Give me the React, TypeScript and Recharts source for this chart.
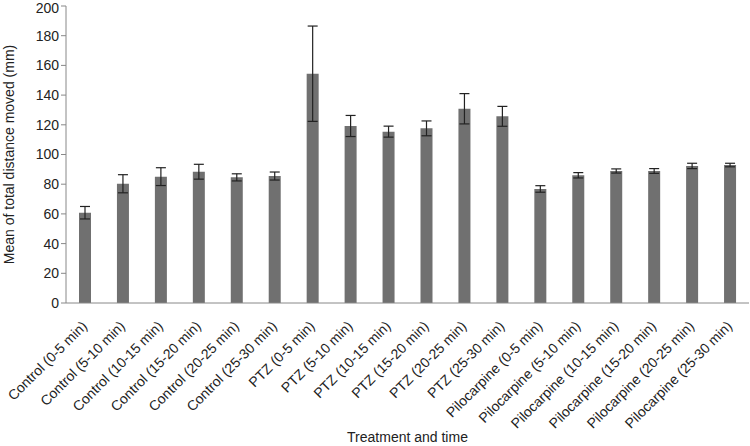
import React from "react";
import { BarChart, Bar, XAxis, YAxis, ErrorBar } from "recharts";

const categories = [
  "Control (0-5 min)",
  "Control (5-10 min)",
  "Control (10-15 min)",
  "Control (15-20 min)",
  "Control (20-25 min)",
  "Control (25-30 min)",
  "PTZ (0-5 min)",
  "PTZ (5-10 min)",
  "PTZ (10-15 min)",
  "PTZ (15-20 min)",
  "PTZ (20-25 min)",
  "PTZ (25-30 min)",
  "Pilocarpine (0-5 min)",
  "Pilocarpine (5-10 min)",
  "Pilocarpine (10-15 min)",
  "Pilocarpine (15-20 min)",
  "Pilocarpine (20-25 min)",
  "Pilocarpine (25-30 min)",
];

const means = [
  60.8, 80.3, 85.1, 88.4, 84.6, 85.5, 154.4, 119.2, 115.4, 117.6, 130.8, 125.7,
  76.8, 86.0, 88.9, 88.9, 92.3, 92.9,
];

const errors = [
  4.2, 6.1, 6.0, 5.0, 2.4, 2.7, 32.1, 7.1, 3.7, 5.0, 10.2, 6.7, 2.2, 1.8, 1.4,
  1.6, 1.8, 1.2,
];

const yTicks = [0, 20, 40, 60, 80, 100, 120, 140, 160, 180, 200];

const data = categories.map((name, i) => ({
  name,
  mean: means[i],
  err: errors[i],
}));

const FONT = "'Liberation Sans', Arial, sans-serif";

const RotatedTick = (props: any) => {
  const { x, y, payload } = props;
  return (
    <text
      x={0}
      y={0}
      transform={`translate(${x + 3}, ${y + 16}) rotate(-45)`}
      textAnchor="end"
      fontSize={14}
      fontFamily={FONT}
      fill="#222"
    >
      {payload.value}
    </text>
  );
};

export default function App() {
  return (
    <div style={{ position: "absolute", left: 0, top: 0, background: "#fff" }}>
      <BarChart
        width={750}
        height={446}
        data={data}
        margin={{ top: 6, right: 1, left: 0, bottom: 0 }}
        barCategoryGap={0}
      >
        <XAxis
          dataKey="name"
          interval={0}
          height={143}
          tickLine={false}
          stroke="#888"
          tick={<RotatedTick />}
          label={{
            value: "Treatment and time",
            position: "insideBottom",
            offset: 4,
            fontSize: 14,
            fontFamily: FONT,
            fill: "#222",
          }}
        />
        <YAxis
          domain={[0, 200]}
          ticks={yTicks}
          width={66}
          stroke="#888"
          tickSize={5}
          tick={{ fontSize: 14, fontFamily: FONT, fill: "#222" }}
          label={{
            value: "Mean of total distance moved  (mm)",
            angle: -90,
            position: "insideLeft",
            offset: 9,
            style: { textAnchor: "middle" },
            fontSize: 14,
            fontFamily: FONT,
            fill: "#222",
          }}
        />
        <Bar dataKey="mean" fill="#707070" barSize={12} isAnimationActive={false}>
          <ErrorBar dataKey="err" width={5} stroke="#222" strokeWidth={1.2} />
        </Bar>
      </BarChart>
    </div>
  );
}
